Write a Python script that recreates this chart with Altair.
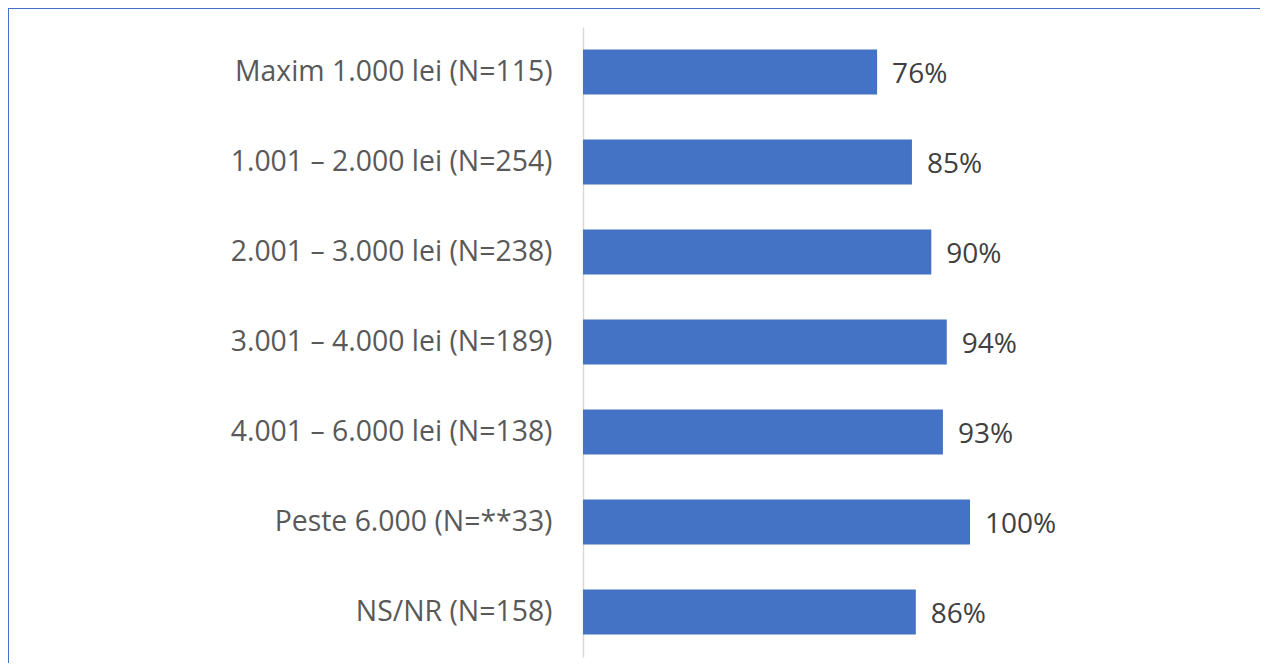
import altair as alt
import pandas as pd

categories = [
    "Maxim 1.000 lei (N=115)",
    "1.001 – 2.000 lei (N=254)",
    "2.001 – 3.000 lei (N=238)",
    "3.001 – 4.000 lei (N=189)",
    "4.001 – 6.000 lei (N=138)",
    "Peste 6.000 (N=**33)",
    "NS/NR (N=158)",
]
values = [76, 85, 90, 94, 93, 100, 86]

df = pd.DataFrame({"cat": categories, "val": values})
df["label"] = [f"{v}%" for v in values]

W = 600
H = 630
XMAX = W / 387 * 100

base = alt.Chart(df).encode(
    y=alt.Y("cat:N", sort=categories, title=None,
            scale=alt.Scale(paddingInner=0.5, paddingOuter=0.25),
            axis=alt.Axis(domainColor="#D9D9D9", domainWidth=1.5, ticks=False,
                          labelFont="Open Sans", labelFontSize=28.4, labelColor="#595959",
                          labelPadding=31, labelLimit=600)),
    x=alt.X("val:Q", title=None, scale=alt.Scale(domain=[0, XMAX], nice=False), axis=None),
)

bars = base.mark_bar(color="#4472C4")
text = base.mark_text(align="left", baseline="middle", dx=15, dy=3,
                      font="Open Sans", fontSize=28, color="#404040").encode(text="label:N")

frame_top = alt.Chart(df).mark_rule(color="#4472C4", strokeWidth=1.5, clip=False).encode(
    x=alt.value(-575), x2=alt.value(W + 77), y=alt.value(-19))
frame_left = alt.Chart(df).mark_rule(color="#4472C4", strokeWidth=1.5, clip=False).encode(
    x=alt.value(-575), y=alt.value(-19), y2=alt.value(H + 6))

chart = alt.layer(bars, text, frame_top, frame_left).properties(
    width=W, height=H,
    autosize=alt.AutoSizeParams(type="none"),
    padding={"left": 575, "top": 19, "right": 77, "bottom": 6},
).configure_view(stroke=None)

chart.save("out.html", embed_options={"renderer": "svg", "actions": False})
